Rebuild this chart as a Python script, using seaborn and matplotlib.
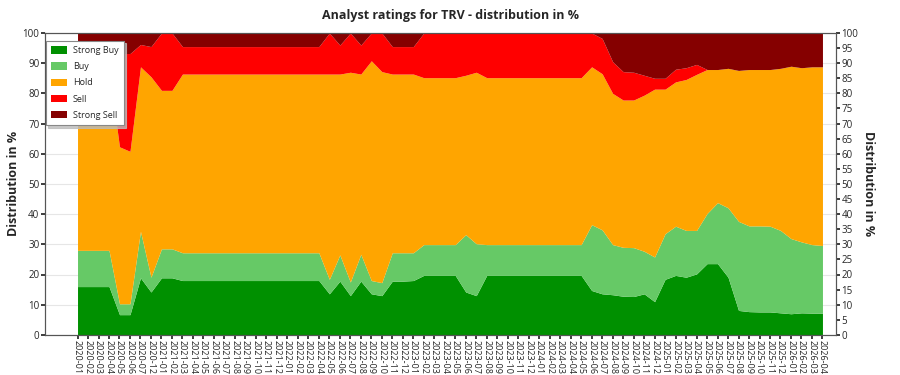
#!/usr/bin/env python3
"""Stacked area chart of analyst ratings distribution for TRV."""

import numpy as np
import pandas as pd
import matplotlib
matplotlib.use("Agg")
import matplotlib.pyplot as plt
import seaborn as sns

# month labels (some months missing in 2020)
months = (["2020-01", "2020-02", "2020-03", "2020-04", "2020-05", "2020-06", "2020-07", "2020-12"]
          + [f"{y}-{m:02d}" for y in (2021, 2022, 2023, 2024, 2025) for m in range(1, 13)]
          + ["2026-01", "2026-02", "2026-03", "2026-04"])

strong_buy = [16, 16, 16, 16, 6.7, 6.7, 18.9, 14.2, 18.9, 18.9,
              18, 18, 18, 18, 18, 18, 18, 18, 18, 18, 18, 18, 18, 18,
              13.6, 17.8, 13, 17.8, 13.6, 13, 17.8, 17.8, 18,
              19.7, 19.7, 19.7, 19.7, 14.2, 13,
              19.7, 19.7, 19.7, 19.7, 19.7, 19.7, 19.7, 19.7, 19.7, 19.7,
              14.7, 13.6, 13.3, 12.8, 12.7, 13.6, 11, 18.4, 19.7, 19.1, 20.2,
              23.6, 23.6, 19.1, 8.1, 7.7, 7.6, 7.6, 7.3, 7, 7.3, 7.2, 7.2]
buy = [12, 12, 12, 12, 3.6, 3.6, 15.4, 4.9, 9.6, 9.6,
       9.2, 9.2, 9.2, 9.2, 9.2, 9.2, 9.2, 9.2, 9.2, 9.2, 9.2, 9.2, 9.2, 9.2,
       4.8, 8.7, 4.5, 8.9, 4.4, 4.3, 9.4, 9.4, 9.2,
       10.2, 10.2, 10.2, 10.2, 19, 17.2,
       10.2, 10.2, 10.2, 10.2, 10.2, 10.2, 10.2, 10.2, 10.2, 10.2,
       21.8, 21.2, 16.6, 16.2, 16.2, 14.1, 14.8, 15.1, 16.3, 15.5, 14.4,
       16.6, 20.2, 23, 29.5, 28.4, 28.5, 28.4, 27.3, 24.9, 23.5, 22.7, 22.4]
hold = [60, 60, 60, 60, 52, 50.5, 54.5, 66.4, 52.5, 52.5,
        59.2, 59.2, 59.2, 59.2, 59.2, 59.2, 59.2, 59.2, 59.2, 59.2, 59.2, 59.2, 59.2, 59.2,
        68, 59.9, 69.5, 59.7, 72.8, 69.9, 59.2, 59.2, 59.2,
        55.3, 55.3, 55.3, 55.3, 52.8, 56.8,
        55.3, 55.3, 55.3, 55.3, 55.3, 55.3, 55.3, 55.3, 55.3, 55.3,
        52.3, 51.7, 50.1, 48.8, 48.9, 51.7, 55.6, 47.9, 47.8, 50, 51.7,
        47.7, 44.1, 46.2, 50, 51.8, 51.8, 51.9, 53.7, 57.1, 57.7, 58.9, 59.2]
sell = [7.5, 7.5, 7.5, 7.5, 30.9, 32.4, 7.4, 10, 19, 19,
        9.1, 9.1, 9.1, 9.1, 9.1, 9.1, 9.1, 9.1, 9.1, 9.1, 9.1, 9.1, 9.1, 9.1,
        13.6, 9.6, 13, 9.6, 9.2, 12.8, 9.1, 9.1, 9.1,
        14.8, 14.8, 14.8, 14.8, 14, 13,
        14.8, 14.8, 14.8, 14.8, 14.8, 14.8, 14.8, 14.8, 14.8, 14.8,
        11.2, 11.7, 10.5, 9.4, 9.2, 6.6, 3.6, 3.6, 4.2, 3.9, 3.3,
        0, 0, 0, 0, 0, 0, 0, 0, 0, 0, 0, 0]
strong_sell = [4.5, 4.5, 4.5, 4.5, 6.8, 6.8, 3.8, 4.5, 0, 0,
               4.5, 4.5, 4.5, 4.5, 4.5, 4.5, 4.5, 4.5, 4.5, 4.5, 4.5, 4.5, 4.5, 4.5,
               0, 4, 0, 4, 0, 0, 4.5, 4.5, 4.5,
               0, 0, 0, 0, 0, 0,
               0, 0, 0, 0, 0, 0, 0, 0, 0, 0,
               0, 1.8, 9.5, 12.8, 13, 14, 15, 15, 12, 11.5, 10.4,
               12.1, 12.1, 11.7, 12.4, 12.1, 12.1, 12.1, 11.7, 11, 11.5, 11.2, 11.2]

categories = ["Strong Buy", "Buy", "Hold", "Sell", "Strong Sell"]
colors = ["#009000", "#66C966", "#FFA500", "#FF0000", "#850000"]

df = pd.DataFrame({"Strong Buy": strong_buy, "Buy": buy, "Hold": hold,
                   "Sell": sell, "Strong Sell": strong_sell}, index=months)

sns.set_theme(style="white")
plt.rcParams['font.family'] = ['Open Sans', 'DejaVu Sans']

fig = plt.figure(figsize=(9, 3.75), dpi=100)
ax = fig.add_axes([0.05, 0.107, 0.879, 0.805])

x = np.arange(len(months))
ax.stackplot(x, [df[c].values for c in categories], colors=colors,
             labels=categories, linewidth=0)

ax.set_xlim(-3.1, len(months) - 1 + 1.3)
ax.set_ylim(0, 100)
ax.set_yticks(range(0, 101, 10))
ax.grid(axis='y', color='#e6e6e6', linewidth=0.8)
ax.set_axisbelow(True)
ax.set_xticks(x)
ax.set_xticklabels(months, rotation=-90, fontsize=6.5)
ax.tick_params(axis='x', length=3, pad=1, direction='out', bottom=True)
ax.tick_params(axis='y', labelsize=7, length=3, pad=1, left=True)
ax.set_ylabel("Distribution in %", fontsize=9, fontweight='bold', labelpad=2)

for side in ['left', 'right', 'top', 'bottom']:
    ax.spines[side].set_color('#555555')
    ax.spines[side].set_linewidth(0.8)

ax2 = ax.twinx()
ax2.set_ylim(0, 100)
ax2.set_yticks(range(0, 101, 5))
ax2.tick_params(axis='y', labelsize=7, length=3, pad=1, right=True)
ax2.set_ylabel("Distribution in %", fontsize=9, fontweight='bold',
               rotation=270, labelpad=12)
for side in ['left', 'right', 'top', 'bottom']:
    ax2.spines[side].set_color('#555555')
    ax2.spines[side].set_linewidth(0.8)

leg = ax.legend(loc='upper left', fontsize=6.5, frameon=True, fancybox=False,
                shadow={'color': '#bbbbbb', 'alpha': 0.8}, borderpad=0.6,
                labelspacing=0.8, handlelength=1.8, handleheight=0.9,
                handletextpad=0.6, bbox_to_anchor=(-0.005, 0.99))
leg.get_frame().set_edgecolor('#888888')
leg.get_frame().set_linewidth(0.8)

fig.suptitle("Analyst ratings for TRV - distribution in %", fontsize=9,
             fontweight='bold', y=0.975)

fig.savefig("out.png", dpi=100)
plt.close(fig)
